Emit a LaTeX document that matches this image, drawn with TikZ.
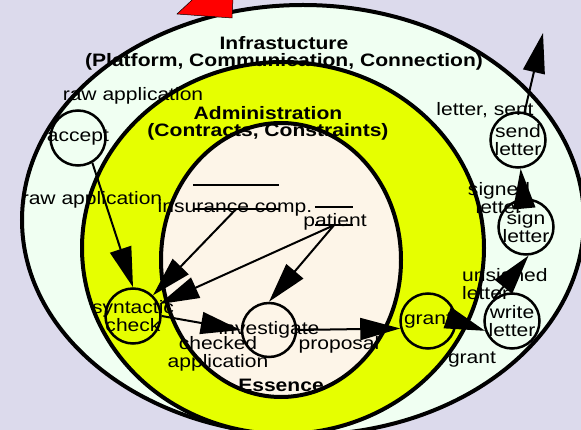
\documentclass[tikz,border=0pt]{standalone}
\usepackage{fontspec}
\setmainfont{Liberation Sans}[FakeStretch=1.17]
\usetikzlibrary{arrows.meta}
\definecolor{bgc}{HTML}{DCDAEC}
\definecolor{mint}{HTML}{F0FFF2}
\definecolor{yel}{HTML}{E6FF00}
\definecolor{cream}{HTML}{FDF5E8}
\begin{document}
\begin{tikzpicture}[x=1pt,y=-1pt,
 every node/.style={font=\fontsize{18}{18}\selectfont, inner sep=0pt},
 region/.style={draw=black, line width=4pt},
 proc/.style={circle, draw=black, line width=2.5pt, minimum size=55pt},
 flow/.style={line width=2pt, -{Triangle[length=40pt,width=22pt]}},
 store/.style={minimum height=24pt},
 title/.style={font=\fontsize{18}{17}\selectfont\bfseries, align=center},
 lbl/.style={align=center},
]
\useasboundingbox (0,0) rectangle (581,430);
\fill[bgc] (0,0) rectangle (581,430);
\draw[region, fill=mint] (303,220) ellipse [x radius=281, y radius=215];
\draw[region, fill=yel] (283,248) ellipse [x radius=201, y radius=186];
\draw[region, fill=cream] (281,260) ellipse [x radius=120, y radius=137];
\filldraw[fill=red, draw=black, line width=0.5pt] (177,14) -- (232,18) -- (235,-40) -- cycle;

\node[title] (t1) at (284,53) {Infrastucture\\(Platform, Communication, Connection)};
\node[title] (t2) at (268,123) {Administration\\(Contracts, Constraints)};
\node[title] (t3) at (281,385) {Essence};

\node[proc, label={center:accept}] (acc) at (78,138) {};
\node[proc, label={[align=center]center:syntactic\\check}] (syn) at (133,316) {};
\node[proc, minimum size=54pt, label={center:investigate}] (inv) at (269,330) {};
\node[proc, label={center:grant}] (gra) at (428,321) {};
\node[proc, label={[align=center]center:write\\letter}] (wri) at (512,321) {};
\node[proc, label={[align=center]center:sign\\letter}] (sig) at (526,227) {};
\node[proc, label={[align=center]center:send\\letter}] (sen) at (518,140) {};

\node[store, minimum width=86pt] (ins) at (236,197) {};
\draw[line width=2pt] (ins.north west) -- (ins.north east) (ins.south west) -- (ins.south east);
\node (insl) at (235,208) {insurance comp.};
\node[store, minimum width=38pt, minimum height=18pt] (pat) at (334,216) {};
\draw[line width=2pt] (pat.north west) -- (pat.north east) (pat.south west) -- (pat.south east);
\node (patl) at (335,222) {patient};

\coordinate (out) at (543,33);
\draw[flow] (acc.-60) -- (syn.north);
\draw[flow] (ins.south) -- (syn);
\draw[flow] (pat.south) -- (syn);
\draw[flow] (pat.south) -- (inv.north);
\draw[flow] (syn.east) -- (inv.west);
\draw[flow] (inv.east) -- (gra.195);
\draw[flow] (gra.east) -- (wri.200);
\draw[flow] (wri.130) -- (sig.275);
\draw[flow] (sig) -- (sen);
\draw[flow] (sen) -- (out);

\node (l1) at (133,96) {raw application};
\node (l2) at (92,200) {raw application};
\node[lbl] (l3) at (218,354) {checked\\application};
\node (l4) at (339,345) {proposal};
\node (l5) at (472,360) {grant};
\node[align=left, anchor=west] (l6) at (462,284) {unsigned\\letter};
\node[lbl] (l7) at (499,198) {signed\\letter};
\node (l8) at (485,110) {letter, sent};
\end{tikzpicture}
\end{document}
